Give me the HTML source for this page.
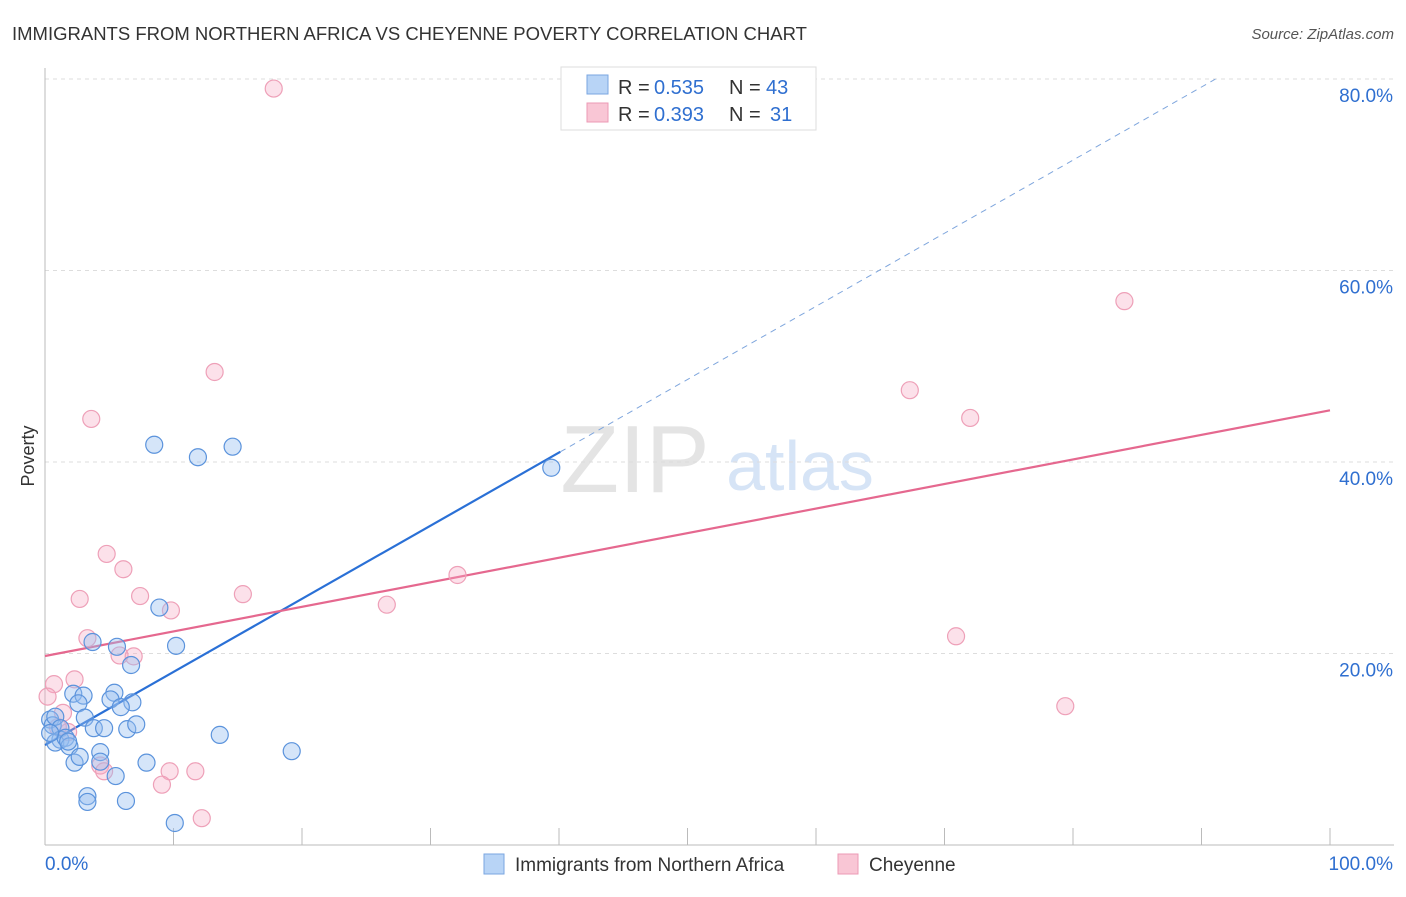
<!DOCTYPE html>
<html><head><meta charset="utf-8"><style>
body{margin:0;background:#fff;font-family:"Liberation Sans",sans-serif}
svg text{font-family:"Liberation Sans",sans-serif}
</style></head><body>
<svg id="c" width="1406" height="892">
<text x="12" y="40" font-size="18.5" fill="#333">IMMIGRANTS FROM NORTHERN AFRICA VS CHEYENNE POVERTY CORRELATION CHART</text>
<text x="1394" y="39" font-size="15" fill="#555" font-style="italic" text-anchor="end">Source: ZipAtlas.com</text>
<text x="34" y="456" font-size="18" fill="#333" transform="rotate(-90 34 456)" text-anchor="middle">Poverty</text>
<g><text x="635" y="492" font-size="96" fill="#e4e4e4" text-anchor="middle" font-family="Liberation Serif">ZIP</text><text x="800" y="490" font-size="70" fill="#d6e4f6" text-anchor="middle">atlas</text></g>
<g id="grid"></g><g id="axes"></g><g id="trend"></g><g id="pts"></g>
<g>
<rect x="561" y="67" width="255" height="63" fill="#fff" stroke="#ddd"/>
<rect x="587" y="75" width="21" height="19" fill="#b8d4f6" stroke="#7aa6e0"/>
<rect x="587" y="103" width="21" height="19" fill="#f9c6d5" stroke="#ec9ab5"/>
<text y="94" font-size="20" fill="#333"><tspan x="618">R =</tspan><tspan x="654" fill="#2f6fd0">0.535</tspan><tspan x="729">N =</tspan><tspan x="766" fill="#2f6fd0">43</tspan></text>
<text y="121" font-size="20" fill="#333"><tspan x="618">R =</tspan><tspan x="654" fill="#2f6fd0">0.393</tspan><tspan x="729">N =</tspan><tspan x="770" fill="#2f6fd0">31</tspan></text>
</g>
<g>
<rect x="484" y="854" width="20" height="20" fill="#b8d4f6" stroke="#7aa6e0"/>
<text x="515" y="871" font-size="19" fill="#333">Immigrants from Northern Africa</text>
<rect x="838" y="854" width="20" height="20" fill="#f9c6d5" stroke="#ec9ab5"/>
<text x="869" y="871" font-size="19" fill="#333">Cheyenne</text>
</g>
</svg>
<script>
const yTicks=[20,40,60,80];
const yTickLabels=["20.0%","40.0%","60.0%","80.0%"];
const xTickLabels=["0.0%","100.0%"];
const blueX=[8.5,11.9,14.6,39.4,8.9,10.2,3.7,5.6,6.7,2.2,3.0,5.4,5.1,2.6,6.8,5.9,3.1,0.4,0.6,0.8,1.2,3.8,4.6,6.4,7.1,13.6,1.2,0.8,1.6,1.9,1.8,4.3,4.3,2.3,2.7,5.5,7.9,3.3,3.3,6.3,10.1,19.2,0.4];
const blueY=[41.8,40.5,41.6,39.4,24.8,20.8,21.2,20.7,18.8,15.8,15.6,15.9,15.2,14.8,14.9,14.4,13.3,13.1,12.5,13.4,12.2,12.2,12.2,12.1,12.6,11.5,11.0,10.7,11.2,10.3,10.8,9.7,8.7,8.6,9.2,7.2,8.6,5.1,4.5,4.6,2.3,9.8,11.7];
const pinkX=[17.8,13.2,3.6,84.0,67.3,72.0,4.8,6.1,2.7,7.4,9.8,15.4,26.6,32.1,70.9,79.4,3.3,5.8,6.9,0.7,2.3,0.2,1.4,1.8,1.0,4.3,4.6,9.7,11.7,9.1,12.2];
const pinkY=[79.0,49.4,44.5,56.8,47.5,44.6,30.4,28.8,25.7,26.0,24.5,26.2,25.1,28.2,21.8,14.5,21.6,19.8,19.7,16.8,17.3,15.5,13.8,11.8,12.3,8.3,7.7,7.7,7.7,6.3,2.8];
const blueTrend=[10.44,86.8];
const pinkTrend=[19.74,45.4];
const X=v=>45+v*12.85, Y=v=>845-v*9.575;
const NS="http://www.w3.org/2000/svg";
function mk(t,a,p){const e=document.createElementNS(NS,t);for(const k in a)e.setAttribute(k,a[k]);document.getElementById(p).appendChild(e);return e;}
yTicks.forEach((t,i)=>{
 const g=mk('line',{x1:45,x2:1394,y1:Y(t),y2:Y(t),stroke:'#ddd','stroke-dasharray':'4 4'},'grid');
 
 
 const l=mk('text',{x:1393,y:Y(t)+23,'font-size':19,fill:'#2f6fd0','text-anchor':'end'},'axes');l.textContent=yTickLabels[i];
 
 
});
const ax=mk('line',{x1:45,x2:45,y1:68,y2:845,stroke:'#bbb'},'axes');


const bx=mk('line',{x1:45,x2:1394,y1:845,y2:845,stroke:'#bbb'},'axes');


for(let i=1;i<=10;i++){const t=mk('line',{x1:X(i*10),x2:X(i*10),y1:828,y2:845,stroke:'#bbb'},'axes');
 
 }
[[0,'start',45],[1,'end',1393]].forEach(([i,a,x])=>{const t=mk('text',{x:x,y:870,'font-size':19,fill:'#2f6fd0','text-anchor':a},'axes');t.textContent=xTickLabels[i];
 
 });
const bf=x=>blueTrend[0]+(blueTrend[1]-blueTrend[0])*x/100;
const pf=x=>pinkTrend[0]+(pinkTrend[1]-pinkTrend[0])*x/100;
let l1=mk('line',{x1:X(0),y1:Y(bf(0)),x2:X(40.1),y2:Y(bf(40.1)),stroke:'#2a70d6','stroke-width':2.2},'trend');


let xe=(80-blueTrend[0])/(blueTrend[1]-blueTrend[0])*100;
let l2=mk('line',{x1:X(40.1),y1:Y(bf(40.1)),x2:X(xe),y2:Y(80),stroke:'#7fa6dd','stroke-width':1,'stroke-dasharray':'6 5'},'trend');


let l3=mk('line',{x1:X(0),y1:Y(pf(0)),x2:X(100),y2:Y(pf(100)),stroke:'#e5688f','stroke-width':2.2},'trend');


pinkX.forEach((x,i)=>{const c=mk('circle',{cx:X(x),cy:Y(pinkY[i]),r:8.5,fill:'rgba(246,170,195,0.35)',stroke:'#eea0b8','stroke-width':1.2},'pts');
 
 });
blueX.forEach((x,i)=>{const c=mk('circle',{cx:X(x),cy:Y(blueY[i]),r:8.5,fill:'rgba(150,190,240,0.4)',stroke:'#5b93dc','stroke-width':1.2},'pts');
 
 });
</script>
</body></html>
